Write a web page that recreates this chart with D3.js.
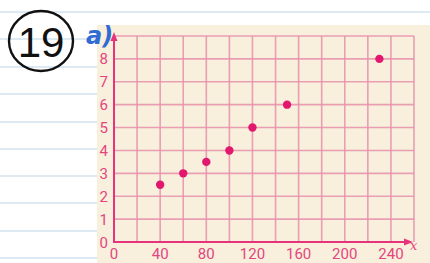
<!DOCTYPE html>
<html><head><meta charset="utf-8">
<script src="https://cdn.jsdelivr.net/npm/d3@7"></script>
<style>html,body{margin:0;padding:0;background:#fff;overflow:hidden}</style>
</head><body>
<script>
const xValues = [40, 60, 80, 100, 120, 150, 230];
const yValues = [2.5, 3, 3.5, 4, 5, 6, 8];
const xTicks = [0, 40, 80, 120, 160, 200, 240];
const yTicks = [0, 1, 2, 3, 4, 5, 6, 7, 8];
const xGrid = d3.range(20, 261, 20);
const yGrid = d3.range(1, 10, 1);
const notebookLines = [12, 39, 67, 94, 122, 149, 176, 203, 231, 258];

const W = 430, H = 263;
const svg = d3.select("body").append("svg").attr("width", W).attr("height", H);

// notebook paper
svg.append("rect").attr("width", W).attr("height", H).attr("fill", "#ffffff");
svg.selectAll("line.nb").data(notebookLines).join("line")
  .attr("x1", 0).attr("x2", W).attr("y1", d => d).attr("y2", d => d)
  .attr("stroke", "#bcd5ea").attr("stroke-width", 1.2);

// cream textbook area
svg.append("rect").attr("x", 97).attr("y", 25).attr("width", W - 97).attr("height", H - 25).attr("fill", "#f8f0dc");

const x = d3.scaleLinear().domain([0, 260]).range([114, 414]);
const y = d3.scaleLinear().domain([0, 9]).range([242, 36]);

// grid
svg.selectAll("line.vg").data(xGrid).join("line")
  .attr("x1", d => x(d)).attr("x2", d => x(d)).attr("y1", y(0)).attr("y2", y(9))
  .attr("stroke", "#e890ad").attr("stroke-width", 1.6).attr("opacity", 0.85);
svg.selectAll("line.hg").data(yGrid).join("line")
  .attr("x1", x(0)).attr("x2", x(260)).attr("y1", d => y(d)).attr("y2", d => y(d))
  .attr("stroke", "#e890ad").attr("stroke-width", 1.6).attr("opacity", 0.85);

// axes with arrows
const axisColor = "#e6337a";
svg.append("line").attr("x1", x(0)).attr("x2", x(0)).attr("y1", y(0) + 1).attr("y2", y(9) - 1)
  .attr("stroke", axisColor).attr("stroke-width", 2);
svg.append("path").attr("d", `M${x(0)},${y(9) - 4} l-3.5,9 l7,0 z`).attr("fill", axisColor);
svg.append("line").attr("x1", x(0) - 1).attr("x2", x(260) - 4).attr("y1", y(0)).attr("y2", y(0))
  .attr("stroke", axisColor).attr("stroke-width", 2);
svg.append("path").attr("d", `M${x(260) - 1},${y(0)} l-9,-3.5 l0,7 z`).attr("fill", axisColor);

// tick labels
const labelColor = "#e4457f";
svg.selectAll("text.xt").data(xTicks).join("text")
  .attr("x", d => x(d)).attr("y", 259).attr("text-anchor", "middle")
  .attr("font-family", "Roboto, sans-serif").attr("font-size", 15).attr("fill", labelColor)
  .text(d => d);
svg.selectAll("text.yt").data(yTicks).join("text")
  .attr("x", 108).attr("y", d => y(d) + 5.5).attr("text-anchor", "end")
  .attr("font-family", "Roboto, sans-serif").attr("font-size", 15).attr("fill", labelColor)
  .text(d => d);
svg.append("text").attr("x", 410).attr("y", 250).attr("font-family", "DejaVu Serif, serif")
  .attr("font-style", "italic").attr("font-size", 13).attr("fill", labelColor).text("x");

// points
svg.selectAll("circle.pt").data(xValues.map((v, i) => [v, yValues[i]])).join("circle")
  .attr("cx", d => x(d[0])).attr("cy", d => y(d[1])).attr("r", 4.2).attr("fill", "#e2176e");

// handwriting
svg.append("ellipse").attr("cx", 41).attr("cy", 41).attr("rx", 32).attr("ry", 30)
  .attr("fill", "none").attr("stroke", "#111").attr("stroke-width", 2.4);
svg.append("text").attr("x", 41).attr("y", 57).attr("text-anchor", "middle")
  .attr("font-family", "Liberation Sans, sans-serif").attr("font-size", 42).attr("fill", "#111")
  .text("19");
svg.append("text").attr("x", 86).attr("y", 44)
  .attr("font-family", "DejaVu Sans, sans-serif").attr("font-style", "italic").attr("font-weight", "bold")
  .attr("font-size", 24).attr("fill", "#2f6bd2").text("a)");
</script>
</body></html>
